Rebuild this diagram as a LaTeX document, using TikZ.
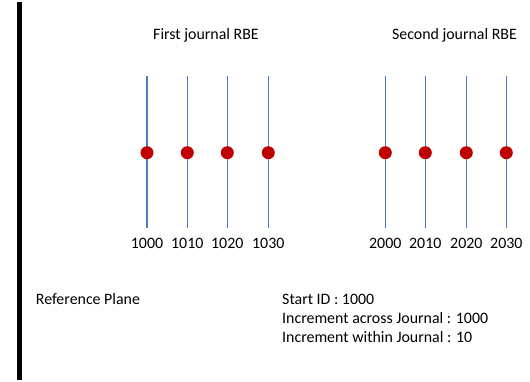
\documentclass[tikz,border=0pt]{standalone}
\usepackage{fontspec}
\setmainfont{Carlito}
\usepackage{tikz}
\usetikzlibrary{positioning, calc}
\definecolor{rbeblue}{RGB}{74,126,187}
\definecolor{rbered}{RGB}{192,0,0}

\begin{document}
\begin{tikzpicture}[x=1pt,y=-1pt]
\tikzset{
    rbe line/.style={draw=rbeblue, line width=1.2pt},
    rbe dot/.style={circle, fill=rbered, inner sep=0pt, minimum size=13pt},
    plain text/.style={font=\fontsize{15.9}{18}\selectfont, inner sep=0pt}
    %title text/.style={plain text, anchor=center},
}
  \useasboundingbox (0,0) rectangle (530,382);
  % reference plane bar
  \fill[black] (17,2) rectangle (22,380);
  \node[plain text, anchor=west] (refplane) at (35.7,299) {Reference Plane};

  % journal titles
  \node[plain text] (first) at (206,35) {First journal RBE};
  \node[plain text] (second) at (454.5,35) {Second journal RBE};

  % rbe lines with ids
  \foreach \x/\n in {147/1000,187.3/1010,227.3/1020,268.3/1030,385.3/2000,425.3/2010,466.3/2020,506.3/2030} {
    \coordinate (top\n) at (\x,76);
    \coordinate (bot\n) at (\x,228);
    \draw[rbe line] (top\n) -- (bot\n);
    \node[rbe dot] (dot\n) at (\x,152.7) {};
    \node[plain text] (id\n) at (\x,243) {\n};
  }

  % settings
  \node[plain text, anchor=west] (start) at (282,299) {Start ID : 1000};
  \node[plain text, anchor=west] (across) at (282,318) {Increment across Journal : 1000};
  \node[plain text, anchor=west] (within) at (282,337) {Increment within Journal : 10};
\end{tikzpicture}
\end{document}
